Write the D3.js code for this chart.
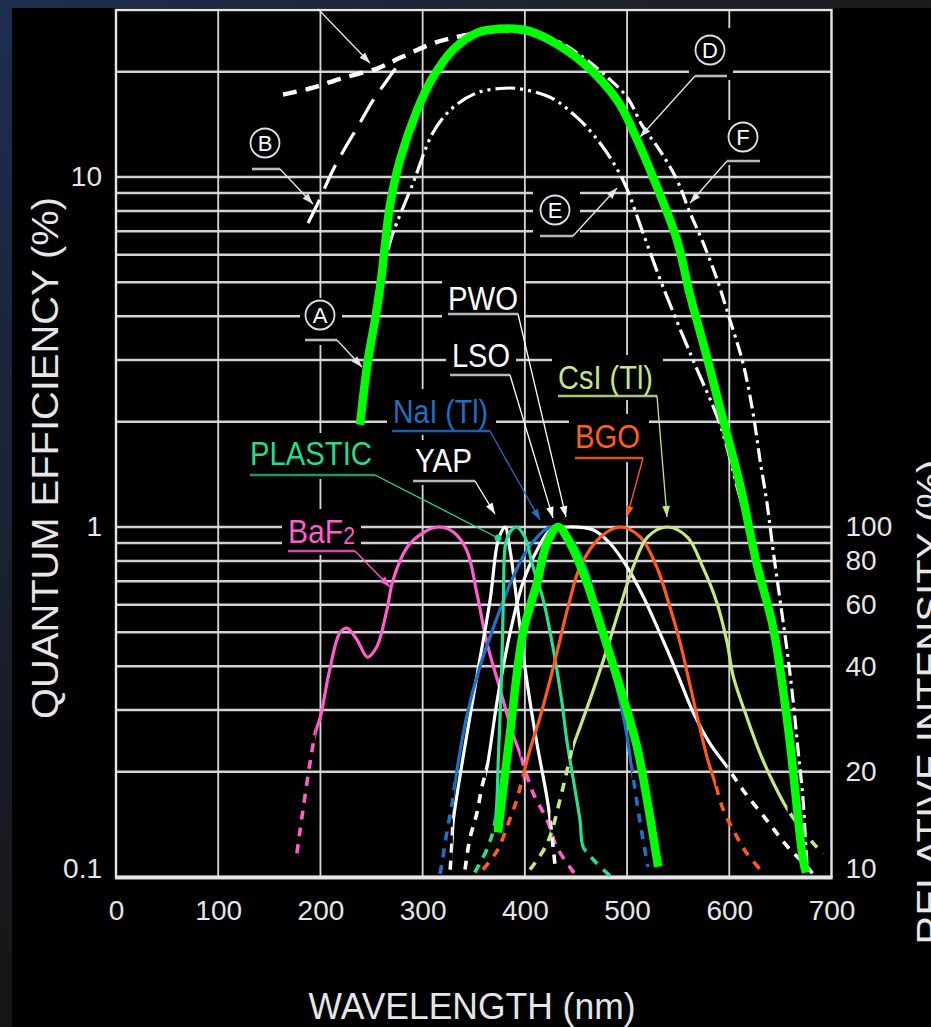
<!DOCTYPE html>
<html><head><meta charset="utf-8">
<script src="https://cdn.jsdelivr.net/npm/d3@7"></script>
<style>html,body{margin:0;padding:0;background:#000;overflow:hidden}</style>
</head><body><svg id="c" width="931" height="1027"></svg>
<script>
// ---------------- DATA ----------------
const wavelengthTicks = [0,100,200,300,400,500,600,700];
const qeTicks = [0.1, 1, 10];
const qeTickLabels = ["0.1", "1", "10"];
const qeGrid = [0.2,0.3,0.4,0.5,0.6,0.7,0.8,0.9,1,2,3,4,5,6,7,8,9,10,20];
const relTicks = [10,20,40,60,80,100];

// Photocathode quantum efficiency curves [nm, QE %]
const curveA = [[238.7,1.96],[246.5,3.0],[253.4,3.9],[259.3,5.08],[268.1,8.32],[277.9,11.2],[294.5,15.5],[310.2,19.3],[329.7,23.1],[353.2,25.8],[375.7,26.5],[400.2,26.3],[424.7,24.6],[456.9,21.2],[490.2,16.6],[509.7,12.8],[529.3,9.36],[548.9,6.6],[561.6,4.6],[576.3,3.2],[590.9,2.19],[610.5,1.32],[627.1,0.779],[642.8,0.518],[657.5,0.268],[672.2,0.112],[675.1,0.103]];
const curveB = [[187.9,7.39],[197.6,8.43],[212.3,10.47],[224.1,12.1],[235.8,13.8],[250.5,16.4],[265.2,18.9],[277.9,21.3]];
const curveC = [[163.4,17.2],[192.7,18.0],[222.1,19.2],[255.4,20.4],[277.9,21.9],[310.2,24.1],[329.7,25.0],[351.2,25.7]];
const curveD = [[336.6,25.3],[356.1,25.8],[385.5,26.1],[424.7,25.0],[456.9,22.0],[480.4,19.3],[500.0,16.9],[515.6,13.9],[532.2,11.9],[548.9,9.8],[561.6,7.9],[574.3,6.5],[588.0,5.1],[600.7,3.9],[613.4,2.94],[623.2,2.12],[630.1,1.55],[636.9,1.17],[642.8,0.86],[649.6,0.62],[656.5,0.445],[662.4,0.32],[667.3,0.23],[672.2,0.166],[675.1,0.119],[677.0,0.1]];
const curveE = [[266.1,6.19],[271.0,6.92],[290.6,9.6],[310.2,13.4],[329.7,15.8],[353.2,17.4],[375.7,17.9],[392.3,17.9],[424.7,16.9],[451.0,14.8],[473.5,12.5],[496.0,9.8],[515.6,6.92],[535.2,4.85],[564.5,3.0],[591.0,1.96],[608.6,1.27],[615.4,1.08]];

// Scintillator emission spectra [nm, relative intensity %]
const baf2 = [[177,11.7],[195,25.8],[200,28.7],[209,39],[219,49.8],[226,51.4],[236,47.5],[246,42.5],[255,45.4],[265,57.9],[271,70.5],[285,87.7],[300,96.1],[315,100],[330,96.8],[343,86],[353,64.8],[363,46.6],[376,34.2],[388,25.8],[395,22.6],[408,17.4],[422,14.5],[431,12.2],[449,10.2]];
const plastic = [[351,10.3],[364,12.2],[371,14.5],[374,21.6],[377,36.6],[379,61.9],[381,88.9],[385.5,96.8],[392,100],[400,93.6],[408,76.9],[418,61.9],[428,44.5],[436,32],[441,24.6],[447,19.3],[454,14.5],[457,12.2],[467,11.2],[486,9.9]];
const yap = [[327,10.5],[329,13],[330,14.5],[349,32],[366,61.9],[374,91.8],[380.6,100],[385.5,86],[392,61.9],[400,39.9],[410,25.8],[422,16.6],[425,14.3],[428,11.9],[430,10.5]];
const nai = [[317,10.2],[319,11],[324,13.6],[329,16.3],[332,18.9],[343,28.7],[356,39.9],[373,55.3],[386,69.2],[398,82],[412,93.6],[425,100],[439,96.8],[459,77.9],[476.5,47.5],[488.2,36.5],[498,27.2],[504.9,20.2],[510.8,15.5],[515.6,12.8],[520.5,10.7]];
const pwo = [[341.5,10.5],[346,12.8],[353,15.2],[358,18.1],[363,20.6],[373,32],[385.5,49.8],[398,69.2],[412,86],[425,98],[441,100],[467,98],[483,90],[500,76.9],[516,63.1],[532,49.8],[549,38.2],[565,29.4],[581,24.1],[598,20.6],[613.5,17.7],[637,14.5],[657,12.2],[676,10.7],[690,9.5]];
const bgo = [[359,10.5],[373,11.9],[384,14.3],[392,16.6],[398,19.3],[405,23.1],[415,28.7],[428,39.9],[444,61.9],[454,76.9],[474,93.6],[493,100],[513,93.6],[529,76.9],[542,59],[552,46.6],[562,34.9],[571,26.8],[579,21.6],[586,18.6],[594,15.6],[604,13.6],[617,11.7],[633,10.3]];
const csi = [[405,10.5],[422,12.5],[436,17.4],[442,20.6],[447,23.5],[454,26.8],[467,34.2],[480,44.5],[493,59],[506,76.9],[520,93.6],[539,100],[559,93.6],[574,76.9],[588,60.6],[598,46.6],[604,37.3],[617,28.7],[630,22.6],[643,18.6],[657,15.6],[682,12.5],[692,11.7]];
const lso = [[373.7,13.4],[385.5,25.8],[398.2,49.8],[411.9,69.2],[421.7,90],[432.4,100],[444.2,90],[460.8,69.2],[476.5,49.8],[493.1,34.9],[509.8,23.5],[519.6,16.6],[530.4,10.7]];

// ---------------- SETUP ----------------
const W = 931, H = 1027;
const svg = d3.select("#c");
const FONT = "'Liberation Sans', Arial, Helvetica, sans-serif";
const x = d3.scaleLinear().domain([0,700]).range([116,831.5]);
const y = d3.scaleLog().domain([0.1,30]).range([877,10]);
const yRel = d3.scaleLog().domain([10,3000]).range([877,10]);
const X0 = x(0), X1 = x(700), Y0 = y(30), Y1 = y(0.1);

const defs = svg.append("defs");
const gt = defs.append("linearGradient").attr("id","gTop").attr("x1",0).attr("x2",1).attr("y1",0).attr("y2",0);
gt.append("stop").attr("offset",0).attr("stop-color","#1d2e4f");
gt.append("stop").attr("offset",0.55).attr("stop-color","#1e2330");
gt.append("stop").attr("offset",1).attr("stop-color","#1b1b1d");
const gl = defs.append("linearGradient").attr("id","gLeft").attr("x1",0).attr("x2",0).attr("y1",0).attr("y2",1);
gl.append("stop").attr("offset",0).attr("stop-color","#1d2e4f");
gl.append("stop").attr("offset",0.5).attr("stop-color","#1a2233");
gl.append("stop").attr("offset",1).attr("stop-color","#151516");
defs.append("clipPath").attr("id","plotClip").append("rect")
  .attr("x",X0).attr("y",Y0).attr("width",X1-X0).attr("height",Y1-Y0);

svg.append("rect").attr("width",W).attr("height",H).attr("fill","#000");
svg.append("rect").attr("width",W).attr("height",8).attr("fill","url(#gTop)");
svg.append("rect").attr("width",12).attr("height",H).attr("fill","url(#gLeft)");

// grid
const grid = svg.append("g");
grid.selectAll("line.h").data(qeGrid).join("line")
  .attr("x1",X0).attr("x2",X1).attr("y1",d=>y(d)).attr("y2",d=>y(d))
  .attr("stroke","#d2d2d2").attr("stroke-width",2.5);
grid.selectAll("line.v").data(wavelengthTicks.slice(1,-1)).join("line")
  .attr("x1",d=>x(d)).attr("x2",d=>x(d)).attr("y1",Y0).attr("y2",Y1)
  .attr("stroke","#d8d8d8").attr("stroke-width",1.8);

// knockout boxes (labels break grid lines)
const knock = [[442,280,82,38],[446,333,70,46],[387,389,109,46],[409,440,69,45],[244,433,134,46],[282,509,79,46],[552,355,111,45],[569,414,80,48],
               [300,298,42,47],[689,28,44,52],[533,186,47,56],[726,120,36,45]];
svg.append("g").selectAll("rect").data(knock).join("rect")
  .attr("x",d=>d[0]).attr("y",d=>d[1]).attr("width",d=>d[2]).attr("height",d=>d[3]).attr("fill","#000");

// frame
svg.append("rect").attr("x",X0).attr("y",Y0).attr("width",X1-X0).attr("height",Y1-Y0)
  .attr("fill","none").attr("stroke","#e6e6e6").attr("stroke-width",2.4);
svg.append("line").attr("x1",X0-1).attr("x2",X1+1).attr("y1",Y1+0.5).attr("y2",Y1+0.5)
  .attr("stroke","#e6e6e6").attr("stroke-width",4);

// ---------------- CURVES ----------------
const plot = svg.append("g").attr("clip-path","url(#plotClip)");
const lineQE = d3.line().x(d=>x(d[0])).y(d=>y(d[1])).curve(d3.curveCatmullRom.alpha(0.5));
const lineRel = d3.line().x(d=>x(d[0])).y(d=>yRel(d[1])).curve(d3.curveCatmullRom.alpha(0.5));

const qeStyles = [
  {d:curveB, w:3.2, dash:"26,12"},
  {d:curveC, w:4.4, dash:"14,9"},
  {d:curveD, w:3.2, dash:"14,5,3,5"},
  {d:curveE, w:3.2, dash:"20,5,3,5,3,5"},
];
qeStyles.forEach(s=>{
  plot.append("path").attr("d",lineQE(s.d)).attr("fill","none").attr("stroke","#fff")
    .attr("stroke-width",s.w).attr("stroke-dasharray",s.dash).attr("stroke-linecap","butt");
});

const emission = [
  {id:"baf", d:baf2, c:"#ff5ccd", solid:[195,396]},
  {id:"pwo", d:pwo, c:"#ffffff", solid:[362,598]},
  {id:"yap", d:yap, c:"#ffffff", solid:[329.5,425]},
  {id:"nai", d:nai, c:"#2070c8", solid:[331,505]},
  {id:"pla", d:plastic, c:"#27e08d", solid:[370,458]},
  {id:"bgo", d:bgo, c:"#ff5a1a", solid:[398,587]},
  {id:"csi", d:csi, c:"#c5e883", solid:[447,657]},
];
emission.forEach(s=>{
  const a = x(s.solid[0]), b = x(s.solid[1]);
  defs.append("clipPath").attr("id","cs_"+s.id).append("rect").attr("x",a).attr("y",0).attr("width",b-a).attr("height",H);
  const cd = defs.append("clipPath").attr("id","cd_"+s.id);
  cd.append("rect").attr("x",0).attr("y",0).attr("width",a).attr("height",H);
  cd.append("rect").attr("x",b).attr("y",0).attr("width",W-b).attr("height",H);
  const p = lineRel(s.d);
  plot.append("g").attr("clip-path","url(#cs_"+s.id+")").append("path").attr("d",p)
    .attr("fill","none").attr("stroke",s.c).attr("stroke-width",3.2);
  plot.append("g").attr("clip-path","url(#cd_"+s.id+")").append("path").attr("d",p)
    .attr("fill","none").attr("stroke",s.c).attr("stroke-width",3.6).attr("stroke-dasharray","9,8");
});

// ---------------- ANNOTATIONS ----------------
const ann = svg.append("g");
function leader(pts, color, end, w){
  ann.append("path").attr("d", d3.line()(pts)).attr("fill","none").attr("stroke",color).attr("stroke-width",w||1.3);
  const [x1,y1] = pts[pts.length-2], [x2,y2] = pts[pts.length-1];
  const a = Math.atan2(y2-y1, x2-x1);
  if (end === "dot") {
    ann.append("circle").attr("cx",x2).attr("cy",y2).attr("r",3.5).attr("fill",color);
  } else if (end !== "none") {
    const L = 11, Wd = 3.8;
    const bx = x2-L*Math.cos(a), by = y2-L*Math.sin(a);
    const px = -Math.sin(a)*Wd, py = Math.cos(a)*Wd;
    ann.append("path").attr("d",`M${x2},${y2}L${bx+px},${by+py}L${bx-px},${by-py}Z`).attr("fill",color);
  }
}
function underline(u, color){
  ann.append("line").attr("x1",u[0]).attr("x2",u[1]).attr("y1",u[2]).attr("y2",u[2])
    .attr("stroke",color).attr("stroke-width",2.6);
}

const textLabels = [
  {t:"PWO", x:448, y:310, w:70, c:"#ffffff", u:"#b8b8b8", ul:[448,518,314], ld:[[518,314],[566,517]]},
  {t:"LSO", x:452, y:367, w:58, c:"#ffffff", u:"#b8b8b8", ul:[450,510,375], ld:[[510,375],[553,518]]},
  {t:"NaI (Tl)", x:393, y:423, w:95, c:"#1f6fc2", u:"#1a5ea8", ul:[392,490,431], ld:[[490,431],[540,520]]},
  {t:"YAP", x:415, y:472, w:57, c:"#ffffff", u:"#b8b8b8", ul:[413,475,481], ld:[[475,481],[495,514]]},
  {t:"PLASTIC", x:250, y:465, w:122, c:"#25dc88", u:"#1a9a5e", ul:[250,375,475], ld:[[375,475],[498,538]], end:"dot"},
  {t:"BaF", sub:"2", x:288, y:543, w:67, c:"#ff5ccd", u:"#d04aa8", ul:[288,355,551], ld:[[355,551],[390,587]]},
  {t:"CsI (Tl)", x:558, y:389, w:95, c:"#c4e784", u:"#a6c86c", ul:[558,657,396], ld:[[657,396],[667,517]]},
  {t:"BGO", x:575, y:448, w:65, c:"#ff5d1f", u:"#e0521a", ul:[575,643,458], ld:[[643,458],[627,517]]},
];
textLabels.forEach(l=>{
  underline(l.ul, l.u);
  leader(l.ld, l.c, l.end);
  const t = ann.append("text").attr("x",l.x).attr("y",l.y).attr("fill",l.c)
    .attr("font-family",FONT).attr("font-size",34)
    .attr("textLength",l.w).attr("lengthAdjust","spacingAndGlyphs");
  t.append("tspan").text(l.t);
  if (l.sub) t.append("tspan").attr("font-size",24).attr("dy",1).text(l.sub);
});

const circLabels = [
  {t:"A", cx:320, cy:315, ul:[305,337,340], ld:[[337,340],[362,367]]},
  {t:"B", cx:265, cy:143, ul:[252,280,169], ld:[[280,169],[313,204]]},
  {t:"D", cx:710, cy:50, ul:[695,727,76], ld:[[695,76],[640,137]]},
  {t:"E", cx:555, cy:210, ul:[540,573,236], ld:[[573,236],[617,188]]},
  {t:"F", cx:743, cy:137, ul:[727,760,161], ld:[[727,161],[690,203]]},
];
circLabels.forEach(l=>{
  underline(l.ul, "#b8b8b8");
  leader(l.ld, "#e8e8e8");
  ann.append("circle").attr("cx",l.cx).attr("cy",l.cy).attr("r",14.5).attr("fill","#000")
    .attr("stroke","#e0e0e0").attr("stroke-width",1.8);
  ann.append("text").attr("x",l.cx).attr("y",l.cy+8).attr("text-anchor","middle")
    .attr("fill","#fff").attr("font-family",FONT).attr("font-size",22).text(l.t);
});
// leader of label C (above the frame)
leader([[318,9],[370,63]], "#e8e8e8");

// highlight curves (bright green)
svg.append("path").attr("d",lineQE(curveA)).attr("fill","none").attr("stroke","#00ff00").attr("stroke-width",8.5);
svg.append("path").attr("d",lineRel(lso)).attr("fill","none").attr("stroke","#00ff00").attr("stroke-width",8.5);

// ---------------- AXES ----------------
function styleAxis(g){
  g.select(".domain").remove();
  g.selectAll("text").attr("font-family",FONT).attr("font-size",28).attr("fill","#e6e6e6");
}
const ax = svg.append("g").attr("transform",`translate(0,${Y1})`)
  .call(d3.axisBottom(x).tickValues(wavelengthTicks).tickSize(0).tickPadding(23).tickFormat(d3.format("d")));
styleAxis(ax);
const ayl = svg.append("g").attr("transform",`translate(${X0},0)`)
  .call(d3.axisLeft(y).tickValues(qeTicks).tickSize(0).tickPadding(14).tickFormat((d,i)=>qeTickLabels[i]));
styleAxis(ayl);
ayl.selectAll(".tick").filter(d=>d===0.1).select("text").attr("dy","0.0em");
const ayr = svg.append("g").attr("transform",`translate(${X1},0)`)
  .call(d3.axisRight(yRel).tickValues(relTicks).tickSize(0).tickPadding(14).tickFormat(d3.format("d")));
styleAxis(ayr);
ayr.selectAll(".tick").filter(d=>d===10).select("text").attr("dy","0.0em");

// titles
svg.append("text").attr("x",472).attr("y",1019).attr("text-anchor","middle")
  .attr("font-family",FONT).attr("font-size",37).attr("fill","#e6e6e6")
  .attr("textLength",327).attr("lengthAdjust","spacingAndGlyphs").text("WAVELENGTH (nm)");
svg.append("text").attr("transform","translate(58,458) rotate(-90)").attr("text-anchor","middle")
  .attr("font-family",FONT).attr("font-size",37).attr("fill","#e6e6e6")
  .attr("textLength",522).attr("lengthAdjust","spacingAndGlyphs").text("QUANTUM EFFICIENCY (%)");
svg.append("text").attr("transform","translate(943,702) rotate(-90)").attr("text-anchor","middle")
  .attr("font-family",FONT).attr("font-size",37).attr("fill","#e6e6e6")
  .attr("textLength",485).attr("lengthAdjust","spacingAndGlyphs").text("RELATIVE INTENSITY (%)");
</script></body></html>
